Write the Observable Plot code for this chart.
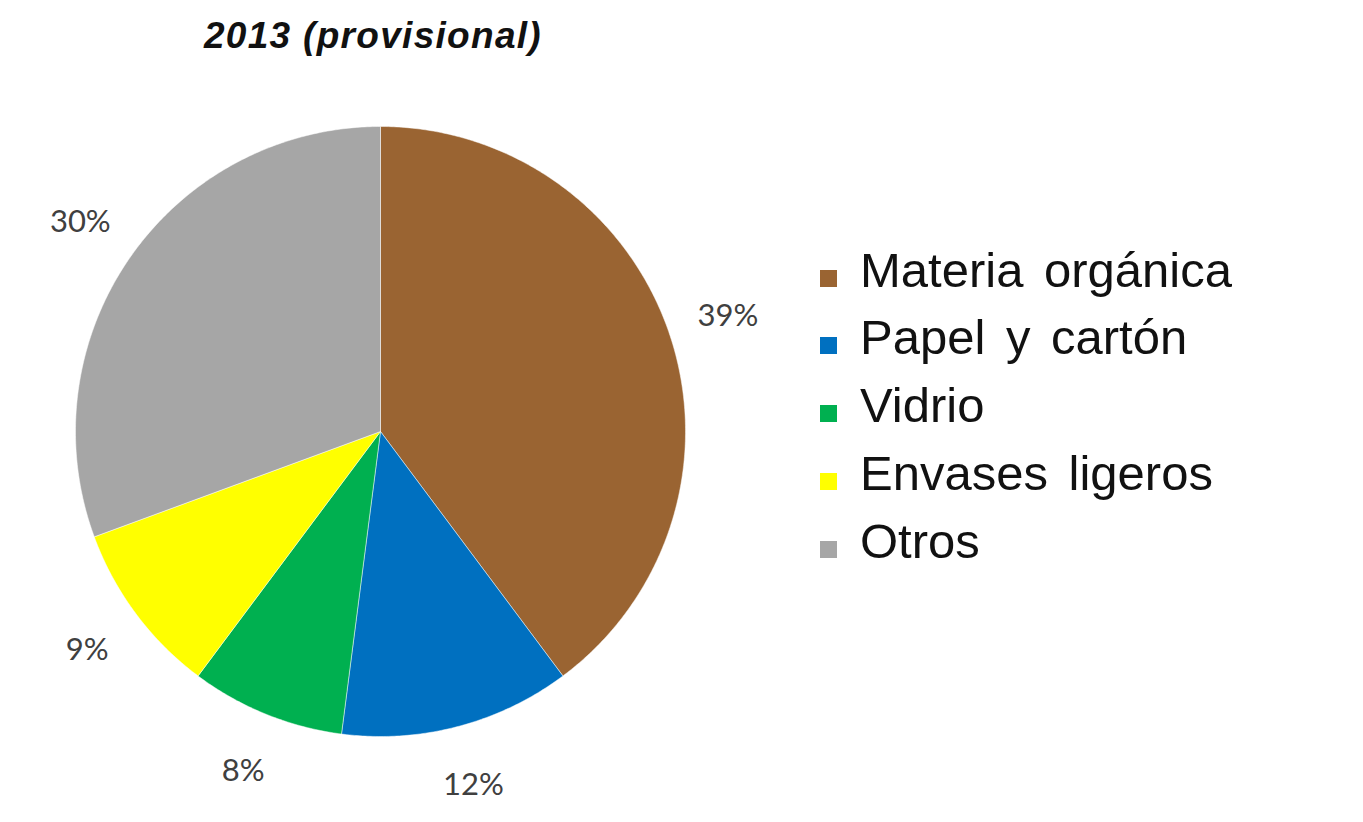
<!DOCTYPE html>
<html>
<head>
<meta charset="utf-8">
<script src="https://cdn.jsdelivr.net/npm/d3@7"></script>
<script src="https://cdn.jsdelivr.net/npm/@observablehq/plot@0.6"></script>
<style>
  html, body { margin: 0; padding: 0; background: #ffffff; }
  #wrap { position: relative; width: 1363px; height: 822px; overflow: hidden; }
  #chart { position: absolute; left: 0; top: 0; }
  #title { position: absolute; left: 0; top: 17px; width: 746px; text-align: center;
    font-family: "Liberation Sans", Arial, sans-serif; font-weight: bold; font-style: italic;
    font-size: 37px; line-height: 1; letter-spacing: 1.3px; color: #111; }
  .leg { position: absolute; left: 820px; font-family: "Liberation Sans", Arial, sans-serif;
    font-size: 49px; line-height: 1; word-spacing: 7px; color: #111; white-space: nowrap; }
  .sw { display: inline-block; width: 17px; height: 17px; margin-right: 23px; }
</style>
</head>
<body>
<div id="wrap">
  <div id="chart"></div>
  <div id="title"></div>
  <div id="legend"></div>
</div>
<script>
// ---- data ----
const title = "2013 (provisional)";
const categories = ["Materia orgánica", "Papel y cartón", "Vidrio", "Envases ligeros", "Otros"];
const values = [39, 12, 8, 9, 30];
const colors = ["#9a6432", "#0070c0", "#00b050", "#ffff00", "#a6a6a6"];

// ---- layout ----
const W = 1363, H = 822;
const cx = 380, cy = 431, R = 305;   // pie centre and radius in pixels
const labelR = 1.2;                  // label radius (relative)

const total = d3.sum(values);
let acc = 0;
const slices = categories.map((c, i) => {
  const a0 = acc / total * 2 * Math.PI;
  acc += values[i];
  const a1 = acc / total * 2 * Math.PI;
  return {category: c, value: values[i], a0, a1, mid: (a0 + a1) / 2};
});

// polygon vertices on the unit circle (angle clockwise from 12 o'clock)
const polys = [];
for (const s of slices) {
  polys.push({category: s.category, x: 0, y: 0});
  const n = Math.max(2, Math.ceil((s.a1 - s.a0) / (Math.PI / 360)));
  for (let k = 0; k <= n; k++) {
    const a = s.a0 + (s.a1 - s.a0) * k / n;
    polys.push({category: s.category, x: Math.sin(a), y: Math.cos(a)});
  }
  polys.push({category: s.category, x: 0, y: 0});
}
const labels = slices.map(s => ({
  text: s.value + "%",
  x: Math.sin(s.mid) * labelR,
  y: Math.cos(s.mid) * labelR
}));

const chart = Plot.plot({
  width: W,
  height: H,
  margin: 0,
  x: {domain: [(0 - cx) / R, (W - cx) / R], range: [0, W], axis: null},
  y: {domain: [(cy - H) / R, cy / R], range: [H, 0], axis: null},
  color: {domain: categories, range: colors},
  style: {background: "transparent"},
  marks: [
    Plot.line(polys, {x: "x", y: "y", z: "category", fill: "category",
      stroke: "#ffffff", strokeWidth: 0.8, strokeOpacity: 0.6, curve: "linear"}),
    Plot.text(labels, {x: "x", y: "y", text: "text", fontSize: 31,
      fontFamily: "Lato, 'Open Sans', sans-serif", fill: "#404040",
      textAnchor: "middle", lineAnchor: "middle"})
  ]
});
document.getElementById("chart").appendChild(chart);

document.getElementById("title").textContent = title;

const legend = document.getElementById("legend");
categories.forEach((c, i) => {
  const row = document.createElement("div");
  row.className = "leg";
  row.style.top = (287 + i * 67.8 - 41.5) + "px";
  const sw = document.createElement("span");
  sw.className = "sw";
  sw.style.background = colors[i];
  row.appendChild(sw);
  row.appendChild(document.createTextNode(c));
  legend.appendChild(row);
});
</script>
</body>
</html>
